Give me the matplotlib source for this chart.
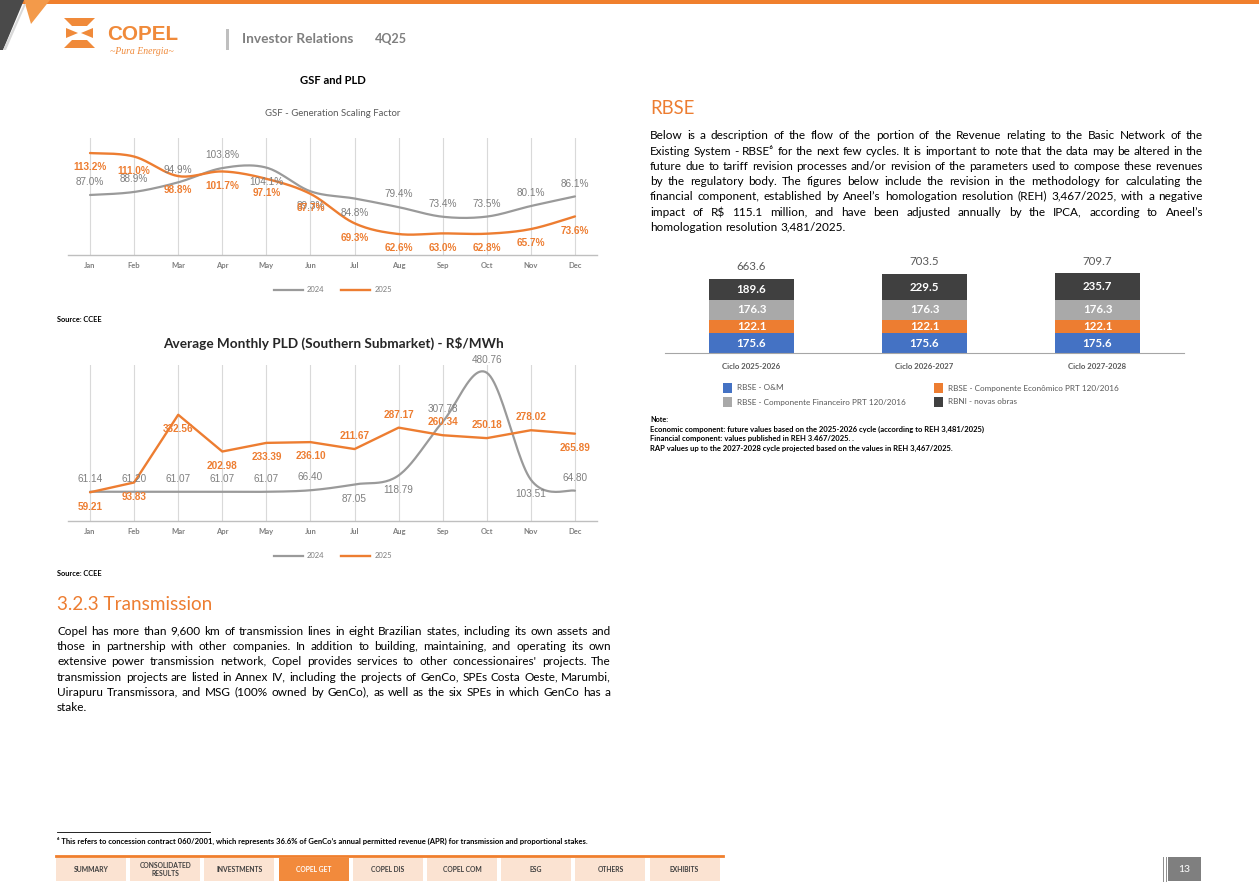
import math
import numpy as np
import matplotlib
matplotlib.use('Agg')
import matplotlib.pyplot as plt
from matplotlib.patches import Polygon, Rectangle
from matplotlib.lines import Line2D

# page size in pixels
W, H = 1259, 889

# ---- data ----
months = ['Jan', 'Feb', 'Mar', 'Apr', 'May', 'Jun', 'Jul', 'Aug', 'Sep', 'Oct', 'Nov', 'Dec']
gsf_2024 = [87.0, 88.9, 94.9, 103.8, 104.1, 89.3, 84.8, 79.4, 73.4, 73.5, 80.1, 86.1]
gsf_2025 = [113.2, 111.0, 98.8, 101.7, 97.1, 87.7, 69.3, 62.6, 63.0, 62.8, 65.7, 73.6]
pld_2024 = [61.14, 61.20, 61.07, 61.07, 61.07, 66.40, 87.05, 118.79, 307.78, 480.76, 103.51, 64.80]
pld_2025 = [59.21, 93.83, 332.56, 202.98, 233.39, 236.10, 211.67, 287.17, 260.34, 250.18, 278.02, 265.89]

cycles = ['Ciclo 2025-2026', 'Ciclo 2026-2027', 'Ciclo 2027-2028']
rbse_om = [175.6, 175.6, 175.6]
rbse_econ = [122.1, 122.1, 122.1]
rbse_fin = [176.3, 176.3, 176.3]
rbni = [189.6, 229.5, 235.7]
bar_series = ['RBSE - O&M', 'RBSE - Componente Econômico PRT 120/2016',
              'RBSE - Componente Financeiro PRT 120/2016', 'RBNI - novas obras']

nav_items = ['SUMMARY', 'CONSOLIDATED\nRESULTS', 'INVESTMENTS', 'COPEL GET', 'COPEL DIS',
             'COPEL COM', 'ESG', 'OTHERS', 'EXHIBITS']

trans_lines = [
    "Copel has more than 9,600 km of transmission lines in eight Brazilian states, including its own assets and",
    "those in partnership with other companies. In addition to building, maintaining, and operating its own",
    "extensive power transmission network, Copel provides services to other concessionaires' projects. The",
    "transmission projects are listed in Annex IV, including the projects of GenCo, SPEs Costa Oeste, Marumbi,",
    "Uirapuru Transmissora, and MSG (100% owned by GenCo), as well as the six SPEs in which GenCo has a",
    "stake.",
]
rbse_lines = [
    "Below is a description of the flow of the portion of the Revenue relating to the Basic Network of the",
    "Existing System - RBSE\u2076 for the next few cycles. It is important to note that the data may be altered in the",
    "future due to tariff revision processes and/or revision of the parameters used to compose these revenues",
    "by the regulatory body. The figures below include the revision in the methodology for calculating the",
    "financial component, established by Aneel\u2019s homologation resolution (REH) 3,467/2025, with a negative",
    "impact of R$ 115.1 million, and have been adjusted annually by the IPCA, according to Aneel\u2019s",
    "homologation resolution 3,481/2025.",
]
note_lines = [
    "Economic component: future values based on the 2025-2026 cycle (according to REH 3,481/2025)",
    "Financial component: values published in REH 3.467/2025. .",
    "RAP values up to the 2027-2028 cycle projected based on the values in REH 3,467/2025.",
]

# ---- colours ----
ORANGE = '#ED7D31'
GRAY_LINE = '#9A9A9A'
GRAY_TXT = '#7F7F7F'
FONT = ['Lato', 'DejaVu Sans']

fig = plt.figure(figsize=(W / 100, H / 100), dpi=100)
fig.patch.set_facecolor('white')
renderer = fig.canvas.get_renderer()


def fx(x):
    return x / W


def fy(y):
    return 1 - y / H


def px_axes(x0, y0, x1, y1):
    return fig.add_axes([fx(x0), fy(y1), (x1 - x0) / W, (y1 - y0) / H])


def box(x0, y0, x1, y1, color):
    fig.add_artist(Rectangle((fx(x0), fy(y1)), (x1 - x0) / W, (y1 - y0) / H,
                             transform=fig.transFigure, color=color, lw=0))


def hline(x0, x1, y, color, lw):
    fig.add_artist(Line2D([fx(x0), fx(x1)], [fy(y), fy(y)], color=color, lw=lw))


def poly(pts, color):
    fig.add_artist(Polygon([(fx(a), fy(b)) for a, b in pts], closed=True,
                           transform=fig.transFigure, color=color, lw=0))


def fit_text(x, y, s, width, ha='left', **kw):
    t = fig.text(fx(x), fy(y), s, ha=ha, va='center', fontsize=10, parse_math=False, **kw)
    w = t.get_window_extent(renderer).width
    t.set_fontsize(10 * width / w)
    return t


def natural_size(lines, width, **kw):
    # font size so the widest full line just fits the column
    widest = 0
    for s in lines[:-1]:
        t = fig.text(0, 0, s, fontsize=10, parse_math=False, **kw)
        widest = max(widest, t.get_window_extent(renderer).width)
        t.remove()
    return 10 * width * 0.985 / widest


def justify(lines, x0, x1, y0, dy, size, **kw):
    a = fig.text(0, 0, 'a a', fontsize=size, family='Lato', **kw)
    b = fig.text(0, 0, 'aa', fontsize=size, family='Lato', **kw)
    space = a.get_window_extent(renderer).width - b.get_window_extent(renderer).width
    a.remove()
    b.remove()
    base = 0.36 * size * 100 / 72  # from line centre to baseline, px
    for i, line in enumerate(lines):
        words = line.split(' ')
        row = round(y0 + i * dy + base)
        texts = []
        for w in words:
            fam = FONT if '\u2076' in w else 'Lato'
            t = fig.text(0, fy(row), w, fontsize=size, va='baseline', ha='left',
                         parse_math=False, family=fam, **kw)
            # Agg snaps each word's bitmap to whole pixels; pick y so every word's
            # glyph baseline ends on the same pixel row
            _, hh, dd = renderer.get_text_width_height_descent(w, t.get_fontproperties(), False)
            t.set_y(fy(row + math.floor(hh) - math.floor(hh - dd) - dd))
            texts.append(t)
        widths = [t.get_window_extent(renderer).width for t in texts]
        if i == len(lines) - 1 or len(words) == 1:
            gap = space
        else:
            gap = (x1 - x0 - sum(widths)) / (len(words) - 1)
        x = x0
        for t, w in zip(texts, widths):
            t.set_x(fx(x))
            x += w + gap


def smooth_xy(x, y, n=24):
    # Catmull-Rom curve through the points, only to draw Excel-style smoothed lines
    x = np.asarray(x, float)
    y = np.asarray(y, float)
    px = np.concatenate([[x[0]], x, [x[-1]]])
    py = np.concatenate([[y[0]], y, [y[-1]]])
    t = np.linspace(0, 1, n, endpoint=False)[:, None]
    out = []
    for i in range(1, len(px) - 2):
        p0 = np.array([px[i - 1], py[i - 1]])
        p1 = np.array([px[i], py[i]])
        p2 = np.array([px[i + 1], py[i + 1]])
        p3 = np.array([px[i + 2], py[i + 2]])
        seg = 0.5 * ((2 * p1) + (-p0 + p2) * t + (2 * p0 - 5 * p1 + 4 * p2 - p3) * t ** 2
                     + (-p0 + 3 * p1 - 3 * p2 + p3) * t ** 3)
        out.append(seg)
    out.append(np.array([[x[-1], y[-1]]]))
    out = np.vstack(out)
    return out[:, 0], out[:, 1]


def line_chart(rect, s24, s25, smooth25, fmt, side24, side25, ylim, legend_y):
    ax = px_axes(*rect)
    x = np.arange(len(months))
    xs, ys = smooth_xy(x, s24)
    ax.plot(xs, ys, color=GRAY_LINE, lw=1.6, solid_capstyle='round', zorder=3)
    if smooth25:
        xs, ys = smooth_xy(x, s25)
    else:
        xs, ys = x, s25
    ax.plot(xs, ys, color=ORANGE, lw=1.7, solid_capstyle='round', zorder=3)
    for i in x:
        off = 9.2 if side24[i] == 'a' else -10.3
        ax.annotate(fmt(s24[i]), (i, s24[i]), xytext=(0, off), textcoords='offset points',
                    ha='center', va='center', fontsize=7.2, color=GRAY_TXT,
                    family='Liberation Sans', zorder=4)
        off = 9.2 if side25[i] == 'a' else -10.3
        ax.annotate(fmt(s25[i]), (i, s25[i]), xytext=(0, off), textcoords='offset points',
                    ha='center', va='center', fontsize=7.2, color=ORANGE, fontweight='bold',
                    family='Liberation Sans', zorder=4)
    ax.set_xlim(-0.5, 11.5)
    ax.set_ylim(*ylim)
    ax.set_xticks(x)
    ax.set_xticklabels(months, fontsize=5.5, fontweight='bold', color=GRAY_TXT, family=FONT)
    ax.tick_params(length=0, pad=5)
    ax.set_yticks([])
    ax.grid(axis='x', color='#D9D9D9', lw=0.8)
    ax.set_axisbelow(True)
    for s in ['top', 'left', 'right']:
        ax.spines[s].set_visible(False)
    ax.spines['bottom'].set_color('#BFBFBF')
    ax.spines['bottom'].set_linewidth(1.0)
    ax.patch.set_alpha(0)
    handles = [Line2D([], [], color=GRAY_LINE, lw=1.6), Line2D([], [], color=ORANGE, lw=1.7)]
    fig.legend(handles, ['2024', '2025'], loc='center', bbox_to_anchor=(fx(333), fy(legend_y)),
               ncol=2, frameon=False, handlelength=3.8, columnspacing=2.2,
               handletextpad=0.5, labelcolor=GRAY_TXT, prop={'family': FONT, 'size': 5.5})
    return ax


# ---- header ----
box(22, 0, W, 4, '#F07F2D')
poly([(0, 0), (24, 0), (3, 50), (0, 50)], '#4A4A4A')
poly([(24, 0), (50, 0), (31, 24)], '#F39A4A')
poly([(3, 50), (6, 50), (26, 4), (24, 4)], '#D9D9D9')
# logo
poly([(64, 18), (95, 18), (87, 26), (72, 26)], '#F08A3A')
poly([(66, 28), (78, 33), (66, 38)], '#F08A3A')
poly([(93, 28), (81, 33), (93, 38)], '#F08A3A')
poly([(72, 40), (87, 40), (95, 48), (64, 48)], '#F08A3A')
fit_text(107, 34, 'COPEL', 71, color='#F08A3A', fontweight='bold', family='Liberation Sans')
fit_text(110, 52, '~Pura Energia~', 64, color='#F08A3A', style='italic', family='Liberation Serif')
box(226, 29, 229, 50, '#BFBFBF')
fit_text(242, 39, 'Investor Relations', 111, color=GRAY_TXT, fontweight='bold', family=FONT)
fit_text(375, 39, '4Q25', 32, color=GRAY_TXT, fontweight='bold', family=FONT)

# ---- GSF chart ----
fit_text(333, 81, 'GSF and PLD', 66, ha='center', color='black', fontweight='bold', family=FONT)
fit_text(333, 113, 'GSF - Generation Scaling Factor', 136, ha='center', color='#595959', family=FONT)
line_chart((68, 138, 597, 255), gsf_2024, gsf_2025, True, lambda v: f'{v:.1f}%',
           list('aaaabbbaaaaa'), list('bbbbbbbbbbbb'), (49.5, 122.6), 290)
fit_text(57, 319, 'Source: CCEE', 45, color='black', fontweight='bold', family=FONT)

# ---- PLD chart ----
fit_text(333, 343, 'Average Monthly PLD (Southern Submarket) - R$/MWh', 340, ha='center',
         color='#262626', fontweight='bold', family=FONT)
line_chart((68, 365, 597, 521), pld_2024, pld_2025, False, lambda v: f'{v:.2f}',
           list('aaaaaabbaaba'), list('bbbbbbaaaaab'), (-42, 508), 556)
fit_text(57, 574, 'Source: CCEE', 45, color='black', fontweight='bold', family=FONT)

# ---- text blocks ----
body_size = min(natural_size(trans_lines, 554, family=FONT),
                natural_size(rbse_lines, 553, family=FONT))
fit_text(57, 604, '3.2.3 Transmission', 155, color=ORANGE, family=FONT)
justify(trans_lines, 57, 611, 630.5, 15.3, body_size, color='black')
fit_text(650, 108, 'RBSE', 44, color=ORANGE, family=FONT)
justify(rbse_lines, 650, 1203, 135, 15.3, body_size, color='black')

# ---- RBSE stacked bars ----
axb = px_axes(665, 265.6, 1184, 353)
xb = np.arange(len(cycles))
bar_colors = ['#4472C4', '#ED7D31', '#A9A9A9', '#404040']
bottom = np.zeros(len(cycles))
for vals, col in zip([rbse_om, rbse_econ, rbse_fin, rbni], bar_colors):
    bars = axb.bar(xb, vals, 0.49, bottom=bottom, color=col, lw=0)
    axb.bar_label(bars, labels=[f'{v:.1f}' for v in vals], label_type='center', color='white',
                  fontweight='bold', fontsize=8.3, family=FONT)
    bottom += np.array(vals)
for i, tot in enumerate(bottom):
    axb.annotate(f'{tot:.1f}', (i, tot), xytext=(0, 8.8), textcoords='offset points',
                 ha='center', va='center', fontsize=8.3, color='#595959', family=FONT)
axb.set_xlim(-0.5, 2.5)
axb.set_ylim(0, 780)
axb.set_xticks(xb)
axb.set_xticklabels(cycles, fontsize=5.6, fontweight='bold', color='#595959', family=FONT)
axb.tick_params(length=0, pad=7)
axb.set_yticks([])
for s in ['top', 'left', 'right']:
    axb.spines[s].set_visible(False)
axb.spines['bottom'].set_color('#A6A6A6')
axb.patch.set_alpha(0)

# legend of the bar chart (two rows, two columns)
leg_pos = [(723, 388), (934, 388), (723, 402), (934, 402)]
leg_order = [0, 1, 2, 3]
for (lx, ly), k in zip(leg_pos, leg_order):
    box(lx, ly - 5, lx + 9, ly + 5, bar_colors[k])
    fig.text(fx(lx + 14), fy(ly), bar_series[k], fontsize=5.9, color='#595959', va='center',
             family=FONT)

# notes
fit_text(650, 419, 'Note:', 18, color='black', fontweight='bold', family=FONT)
t = fit_text(650, 429, note_lines[0], 334, color='black', fontweight='bold', family=FONT)
note_size = t.get_fontsize()
for s, y in zip(note_lines[1:], [438, 448]):
    fig.text(fx(650), fy(y), s, fontsize=note_size, color='black', fontweight='bold',
             va='center', family=FONT)

# ---- footer ----
hline(57, 210, 832, 'black', 0.6)
fit_text(57, 841, '\u2076 This refers to concession contract 060/2001, which represents 36.6% of '
         'GenCo\u2019s annual permitted revenue (APR) for transmission and proportional stakes.',
         537, color='black', fontweight='bold', family=FONT)
hline(56, 723, 856, '#F07F2D', 2)
for i, item in enumerate(nav_items):
    x0 = 56 + i * 74.2
    active = item == 'COPEL GET'
    box(x0, 858, x0 + 70, 881, '#F28A3C' if active else '#FBE3D2')
    fig.text(fx(x0 + 35), fy(869.5), item, ha='center', va='center', fontsize=4.9,
             fontweight='bold', color='white' if active else '#404040', family=FONT,
             linespacing=1.1)
box(1168, 857, 1201, 881, '#7F7F7F')
for lx in [1163, 1165.5]:
    fig.add_artist(Line2D([fx(lx), fx(lx)], [fy(857), fy(881)], color='#8C8C8C', lw=0.7))
fig.text(fx(1184.5), fy(869), '13', ha='center', va='center', fontsize=7.5, color='white',
         family=FONT)

fig.savefig('out.png', dpi=100, facecolor='white')
